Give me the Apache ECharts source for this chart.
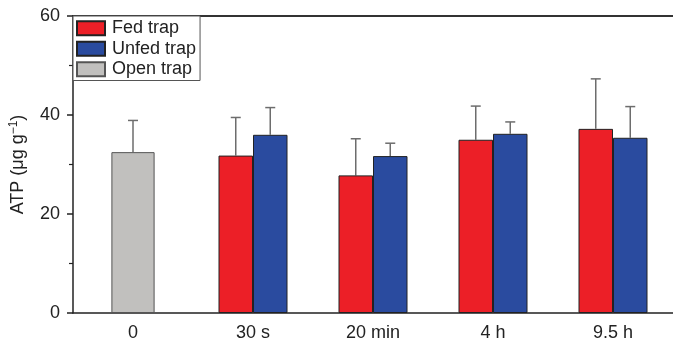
<!DOCTYPE html>
<html><head><meta charset="utf-8">
<script src="https://cdn.jsdelivr.net/npm/echarts@6/dist/echarts.min.js"></script>
<style>html,body{margin:0;padding:0;background:#fff}#c{width:673px;height:347px}</style>
</head><body><div id="c"></div>
<script>
const categories = ['0', '30 s', '20 min', '4 h', '9.5 h'];
const fedMean   = [null, 31.8, 27.8, 35.0, 37.2];
const fedErr    = [null, 7.7, 7.4, 6.8, 10.1];
const unfedMean = [null, 36.0, 31.7, 36.2, 35.4];
const unfedErr  = [null, 5.5, 2.6, 2.4, 6.3];
const openMean  = [32.5, null, null, null, null];
const openErr   = [6.4, null, null, null, null];
const yTicks = [0, 20, 40, 60];

const FONT = 'Liberation Sans, Arial, sans-serif';
const chart = echarts.init(document.getElementById('c'));

function errData(means, errs) {
  const out = [];
  means.forEach((m, i) => { if (m != null) out.push([i, m, m + errs[i]]); });
  return out;
}
function errSeries(means, errs, shiftFrac, axisIdx) {
  return {
    type: 'custom', xAxisIndex: axisIdx, z: 1, silent: true,
    data: errData(means, errs),
    encode: { x: 0, y: [1, 2] },
    renderItem: function (params, api) {
      const band = api.size([1, 0])[0];
      const p0 = api.coord([api.value(0), api.value(1)]);
      const p1 = api.coord([api.value(0), api.value(2)]);
      const x = p0[0] + band * shiftFrac;
      const cap = 5;
      const st = { stroke: '#6d6d6d', lineWidth: 1.5 };
      return { type: 'group', children: [
        { type: 'line', shape: { x1: x, y1: p0[1], x2: x, y2: p1[1] }, style: st },
        { type: 'line', shape: { x1: x - cap, y1: p1[1], x2: x + cap, y2: p1[1] }, style: st }
      ]};
    }
  };
}

const barBorder = { borderColor: '#222', borderWidth: 1 };
chart.setOption({
  animation: false,
  grid: { left: 73, right: 0, top: 16, bottom: 34, containLabel: false, outerBoundsMode: 'none' },
  legend: {
    orient: 'vertical', left: 73, top: 16,
    data: ['Fed trap', 'Unfed trap', 'Open trap'],
    icon: 'rect',
    itemWidth: 28, itemHeight: 14, itemGap: 0,
    padding: [2, 4, 1, 3],
    backgroundColor: '#fff', borderColor: '#555', borderWidth: 1,
    textStyle: { fontFamily: FONT, fontSize: 18, color: '#222', lineHeight: 19.5, padding: [1, 0, 0, 2] }
  },
  xAxis: [
    { type: 'category', data: categories, position: 'bottom',
      axisLine: { lineStyle: { color: '#222', width: 1.5 } },
      axisTick: { alignWithLabel: true, length: 6, lineStyle: { color: '#222', width: 1.5 } },
      axisLabel: { fontFamily: FONT, fontSize: 18, color: '#222', margin: 11 },
      splitLine: { show: false } },
    { type: 'category', data: categories, position: 'top',
      axisLine: { show: true, lineStyle: { color: '#333', width: 2 } },
      axisTick: { show: false }, axisLabel: { show: false }, splitLine: { show: false } }
  ],
  yAxis: {
    type: 'value', min: 0, max: 60, interval: 20,
    name: 'ATP (μg g{sup|−1})', nameLocation: 'middle', nameGap: 45, nameRotate: 90,
    nameTextStyle: { fontFamily: FONT, fontSize: 18, color: '#222',
      rich: { sup: { fontFamily: FONT, fontSize: 12, color: '#222', verticalAlign: 'top', padding: [0, 0, 8, 0] } } },
    axisLine: { show: true, lineStyle: { color: '#222', width: 1.5 } },
    axisTick: { show: true, length: 6, lineStyle: { color: '#222', width: 1.5 } },
    minorTick: { show: true, splitNumber: 2, length: 4, lineStyle: { color: '#222', width: 1.2 } },
    axisLabel: { fontFamily: FONT, fontSize: 18, color: '#222', margin: 13,
      formatter: v => yTicks.includes(v) ? String(v) : '' },
    splitLine: { show: false }
  },
  series: [
    { name: 'Fed trap', type: 'bar', xAxisIndex: 0, data: fedMean, barWidth: '28.75%', barGap: '0%', z: 2,
      itemStyle: Object.assign({ color: '#ec1f27' }, barBorder) },
    { name: 'Unfed trap', type: 'bar', xAxisIndex: 0, data: unfedMean, barWidth: '28.75%', barGap: '0%', z: 2,
      itemStyle: Object.assign({ color: '#2a4b9f' }, barBorder) },
    { name: 'Open trap', type: 'bar', xAxisIndex: 1, data: openMean, barWidth: '36%', z: 2,
      itemStyle: { color: '#c1c0be', borderColor: '#555', borderWidth: 1 } },
    errSeries(fedMean, fedErr, -0.14375, 0),
    errSeries(unfedMean, unfedErr, 0.14375, 0),
    errSeries(openMean, openErr, 0, 1)
  ]
});
</script></body></html>
